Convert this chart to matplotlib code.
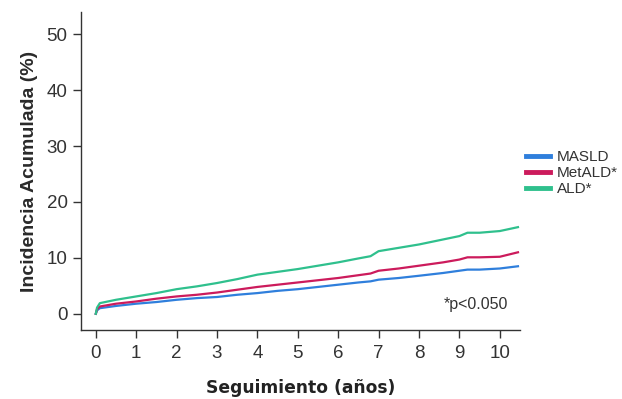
import matplotlib
matplotlib.use("Agg")
import matplotlib.pyplot as plt

years = [0.0, 0.03, 0.1, 0.5, 1.0, 1.5, 2.0, 2.5, 3.0, 3.5, 4.0, 4.5, 5.0, 5.5, 6.0, 6.5, 6.8, 7.0, 7.5, 8.0, 8.6, 9.0, 9.2, 9.5, 10.0, 10.45]
masld = [0.0, 0.6, 1.0, 1.4, 1.8, 2.1, 2.5, 2.8, 3.0, 3.4, 3.7, 4.1, 4.4, 4.8, 5.2, 5.6, 5.8, 6.1, 6.4, 6.8, 7.3, 7.7, 7.9, 7.9, 8.1, 8.5]
metald = [0.0, 0.8, 1.3, 1.8, 2.2, 2.7, 3.1, 3.4, 3.8, 4.3, 4.8, 5.2, 5.6, 6.0, 6.4, 6.9, 7.2, 7.7, 8.1, 8.6, 9.2, 9.7, 10.1, 10.1, 10.2, 11.0]
ald = [0.0, 1.1, 1.9, 2.5, 3.1, 3.7, 4.4, 4.9, 5.5, 6.2, 7.0, 7.5, 8.0, 8.6, 9.2, 9.9, 10.3, 11.2, 11.8, 12.4, 13.3, 13.9, 14.5, 14.5, 14.8, 15.5]

labels = ["MASLD", "MetALD*", "ALD*"]
colors = ["#2f7fdc", "#cc1b5c", "#2fc08d"]
xticks = list(range(0, 11))
yticks = [0, 10, 20, 30, 40, 50]

plt.rcParams["font.family"] = ["Liberation Sans", "DejaVu Sans"]

fig = plt.figure(figsize=(6.22, 3.99), dpi=100)
ax = fig.add_axes([0.130, 0.173, 0.706, 0.797])

for ys, lab, c in zip([masld, metald, ald], labels, colors):
    ax.plot(years, ys, color=c, lw=1.6, label=lab)

ax.set_xlim(-0.37, 10.5)
ax.set_ylim(-2.9, 54)
ax.set_xticks(xticks)
ax.set_yticks(yticks)
for s in ["top", "right"]:
    ax.spines[s].set_visible(False)
for s in ["left", "bottom"]:
    ax.spines[s].set_color("#333333")
    ax.spines[s].set_linewidth(1.0)
ax.tick_params(axis="both", direction="out", length=6, width=1.0, color="#333333",
               labelsize=13.5, labelcolor="#333333")
ax.tick_params(axis="x", pad=5)

ax.set_ylabel("Incidencia Acumulada (%)", fontsize=14, fontweight="bold", color="#2a2a2a", labelpad=6)
ax.set_xlabel("Seguimiento (años)", fontsize=12.3, fontweight="bold", color="#222222",
              labelpad=12, family=["DejaVu Sans"])

ax.text(0.973, 0.079, "*p<0.050", transform=ax.transAxes, ha="right", va="center",
        fontsize=11.5, color="#333333")

leg = fig.legend(loc="center left", bbox_to_anchor=(0.845, 0.566), frameon=False,
                 fontsize=11, handlelength=1.6, handletextpad=0.45, labelspacing=0.15,
                 borderpad=0, borderaxespad=0)
for h in leg.legend_handles:
    h.set_linewidth(3.5)
for t in leg.get_texts():
    t.set_color("#333333")

fig.savefig("out.png", dpi=100)
